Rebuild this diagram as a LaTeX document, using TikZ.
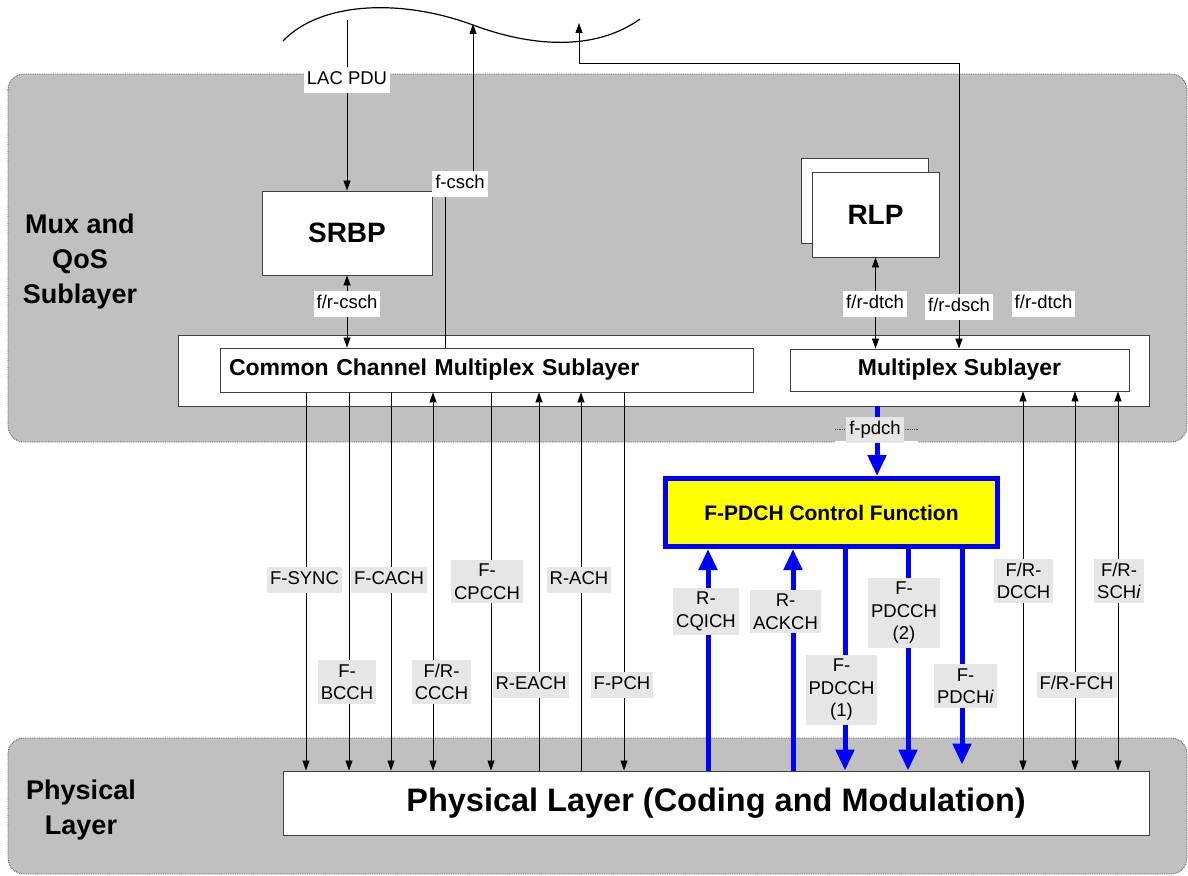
\documentclass[tikz,border=0pt]{standalone}
\usepackage{fontspec}
\setmainfont{Liberation Sans}
\usetikzlibrary{arrows.meta,calc}
\definecolor{panelgray}{HTML}{C0C0C0}
\definecolor{tagfill}{HTML}{E6E6E6}
\definecolor{pblue}{HTML}{0000FF}
\definecolor{pyellow}{HTML}{FFFF00}
\tikzset{
  panel/.style={fill=panelgray, draw=black!70, densely dotted, line width=0.8pt, rounded corners=16pt},
  box/.style={draw=black!75, fill=white, line width=0.9pt, inner sep=0pt},
  tag/.style={fill=tagfill, inner xsep=3pt, inner ysep=4pt, font=\fontsize{18.5}{22.5}\selectfont, align=center},
  tag1/.style={tag, text height=13pt, text depth=4pt, inner ysep=4.5pt},
  wtag/.style={tag1, fill=white},
  link/.style={line width=0.8pt, black},
  flow/.style={pblue, line width=5pt, -{Triangle[length=21pt,width=18pt]}},
  bigtitle/.style={font=\fontsize{28}{30}\selectfont\bfseries},
  sidetitle/.style={font=\fontsize{27}{35}\selectfont\bfseries, align=center},
  subtitle/.style={font=\fontsize{23}{25}\selectfont\bfseries}
}
\begin{document}
\begin{tikzpicture}[x=1pt, y=-1pt, >={Triangle[length=10pt,width=7pt]}]
\useasboundingbox (0,0) rectangle (1188,875);
\clip (0,0) rectangle (1188,875);

% layer bands
\draw[panel] (8,74) rectangle (1187,442);
\draw[panel] (8,738) rectangle (1187,874);
\node[sidetitle] (muxname) at (80,262) {Mux and\\QoS\\Sublayer};
\node[sidetitle] (phyname) at (81,810) {Physical\\Layer};

% upper layer boundary
\draw[line width=1.2pt] (283,41) .. controls (320,2) and (400,-2) .. (473,25)
  .. controls (540,50) and (600,48) .. (640,19);
\coordinate (lacTop) at (347,20);
\coordinate (cschTop) at (473,24);
\coordinate (dschTop) at (579,23);
\coordinate (cschKnee) at (445,184);
\coordinate (dschKnee) at (959,63);

% blocks
\node[box, minimum width=170pt, minimum height=84pt, bigtitle] (srbp) at (347,233) {SRBP};
\node[box, minimum width=127pt, minimum height=85pt] (rlpB) at (864.5,200.5) {};
\node[box, minimum width=127pt, minimum height=85pt, bigtitle] (rlp) at (875.5,214.5) {RLP};
\node[box, minimum width=971pt, minimum height=71pt] (muxbox) at (663.5,370.5) {};
\node[box, minimum width=533pt, minimum height=44pt, subtitle, text width=515pt, align=left] (ccms) at (486.5,370) {Common Channel Multiplex Sublayer};
\node[box, minimum width=339pt, minimum height=42pt, subtitle] (ms) at (959.5,370) {Multiplex Sublayer};
\node[draw=pblue, line width=5pt, fill=pyellow, minimum width=332pt, minimum height=68pt,
      font=\fontsize{21}{23}\selectfont\bfseries] (pdcf) at (831.5,512.5) {F-PDCH Control Function};
\node[box, minimum width=866pt, minimum height=64pt, font=\fontsize{32.5}{34}\selectfont\bfseries] (phy) at (716,803) {Physical Layer (Coding and Modulation)};

% channel columns
\foreach \name/\x in {sync/306, bcch/349, cach/391, ccch/433, cpcch/491, each/539, ach/581, pch/624,
                      dcch/1023, fch/1075, sch/1118, cqich/708, ackch/793, pdcchA/845, pdcchB/908,
                      pdchi/962, fpdch/877}
  \coordinate (c-\name) at (\x,0);

% upper connectors
\draw[link,->] (lacTop) -- (srbp.north);
\draw[link,<->] (srbp.south) -- (srbp.south |- ccms.north);
\draw[link,->] (ccms.north -| cschKnee) -- (cschKnee) -- (cschKnee -| cschTop) -- (cschTop);
\draw[link,<->] (dschTop) -- (dschTop |- dschKnee) -- (dschKnee) -- (ms.north -| dschKnee);
\draw[link,<->] (rlp.south) -- (rlp.south |- ms.north);

% common channels
\draw[link,->] (ccms.south -| c-sync) -- (phy.north -| c-sync);
\draw[link,->] (ccms.south -| c-bcch) -- (phy.north -| c-bcch);
\draw[link,->] (ccms.south -| c-cach) -- (phy.north -| c-cach);
\draw[link,<->] (ccms.south -| c-ccch) -- (phy.north -| c-ccch);
\draw[link,->] (ccms.south -| c-cpcch) -- (phy.north -| c-cpcch);
\draw[link,->] (phy.north -| c-each) -- (ccms.south -| c-each);
\draw[link,->] (phy.north -| c-ach) -- (ccms.south -| c-ach);
\draw[link,->] (ccms.south -| c-pch) -- (phy.north -| c-pch);

% dedicated channels
\draw[link,<->] (ms.south -| c-dcch) -- (phy.north -| c-dcch);
\draw[link,<->] (ms.south -| c-fch) -- (phy.north -| c-fch);
\draw[link,<->] (ms.south -| c-sch) -- (phy.north -| c-sch);

% packet data channels
\draw[flow] (muxbox.south -| c-fpdch) -- (pdcf.north -| c-fpdch);
\draw[flow] (phy.north -| c-cqich) -- (pdcf.south -| c-cqich);
\draw[flow] (phy.north -| c-ackch) -- (pdcf.south -| c-ackch);
\draw[flow] (pdcf.south -| c-pdcchA) -- (phy.north -| c-pdcchA);
\draw[flow] (pdcf.south -| c-pdcchB) -- (phy.north -| c-pdcchB);
\draw[flow] (pdcf.south -| c-pdchi) -- ($(phy.north -| c-pdchi)+(0,-6)$);

% gap in the band edge behind the f-pdch tag
\draw[white, line width=1.5pt] (835,442) -- (918,442);
\draw[black!70, densely dotted, line width=0.8pt] (835,429) -- (847,429) (903,429) -- (918,429);

% labels
\node[wtag] (t-lac) at (347,80) {LAC PDU};
\node[wtag] (t-fcsch) at (460,184) {f-csch};
\node[wtag] (t-frcsch) at (347,304) {f/r-csch};
\node[wtag] (t-dtchA) at (875,303.5) {f/r-dtch};
\node[wtag] (t-dsch) at (959,306.5) {f/r-dsch};
\node[wtag] (t-dtchB) at (1043.5,303.5) {f/r-dtch};
\node[tag1] (t-fpdch) at (875,430) {f-pdch};

\node[tag1] (t-sync) at (304.5,580) {F-SYNC};
\node[tag1] (t-cach) at (389,580) {F-CACH};
\node[tag] (t-cpcch) at (487,581.5) {F-\\CPCCH};
\node[tag1] (t-ach) at (579,580) {R-ACH};
\node[tag] (t-bcch) at (347,682) {F-\\BCCH};
\node[tag] (t-ccch) at (441.5,682) {F/R-\\CCCH};
\node[tag1] (t-each) at (531,684.5) {R-EACH};
\node[tag1] (t-pch) at (622,684.5) {F-PCH};

\node[tag] (t-cqich) at (706,611.5) {R-\\CQICH};
\node[tag] (t-ackch) at (785.5,611.5) {R-\\ACKCH};
\node[tag] (t-pdcchA) at (841.5,690) {F-\\PDCCH\\(1)};
\node[tag] (t-pdcchB) at (904,613) {F-\\PDCCH\\(2)};
\node[tag] (t-pdchi) at (965.5,686) {F-\\PDCH\textit{i}};
\node[tag] (t-dcch) at (1023.5,581) {F/R-\\DCCH};
\node[tag1] (t-fch) at (1076.5,684.5) {F/R-FCH};
\node[tag] (t-sch) at (1119,581) {F/R-\\SCH\textit{i}};
\end{tikzpicture}
\end{document}
